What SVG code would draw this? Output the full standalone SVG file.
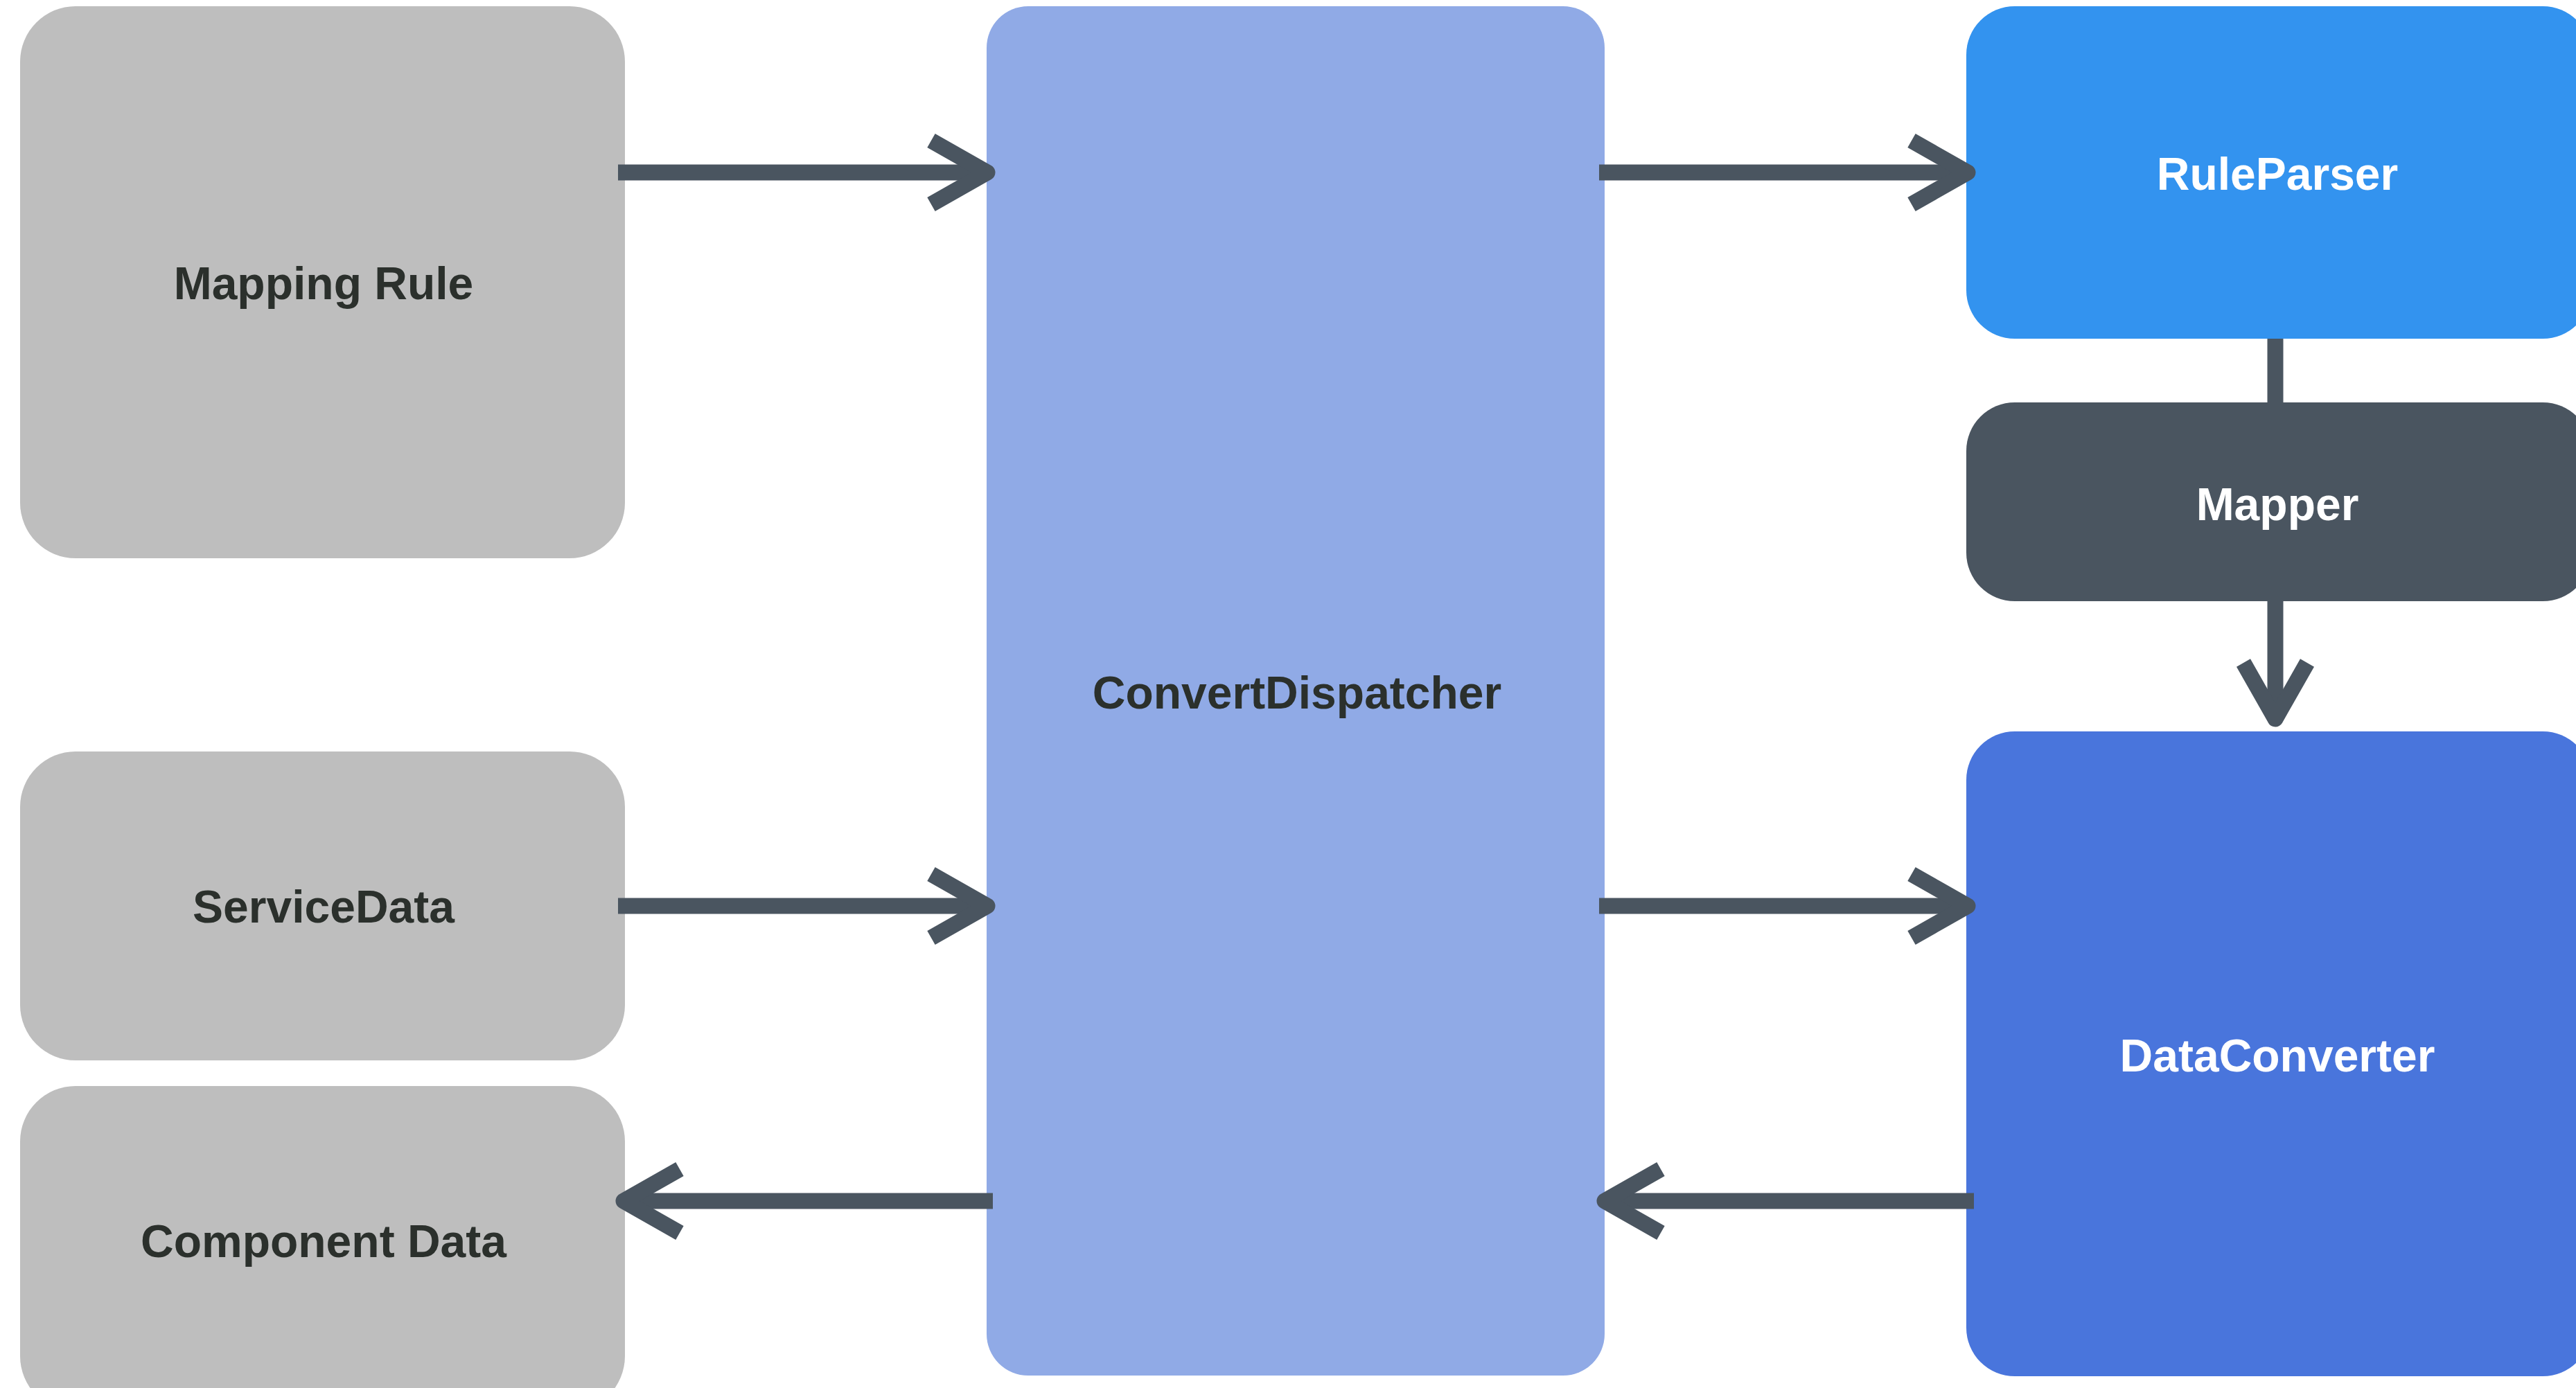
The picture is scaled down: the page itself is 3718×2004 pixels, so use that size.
<svg xmlns="http://www.w3.org/2000/svg" width="3718" height="2004" viewBox="0 0 3718 2004">
<style>
.lbl{font-family:"Liberation Sans",Arial,sans-serif;font-weight:bold;font-size:66px;text-anchor:middle}
.dark{fill:#2b302c}
.light{fill:#ffffff}
.line{stroke:#4a5560;stroke-width:23;fill:none}
.head{stroke:#4a5560;stroke-width:23;fill:none;stroke-linejoin:round;stroke-linecap:butt}
</style>
<rect width="3718" height="2004" fill="#ffffff"/>
<g id="mapping-rule">
<rect x="29" y="9" width="873" height="797" rx="80" ry="80" fill="#bebebe"/>
<text class="lbl dark" x="467" y="432">Mapping Rule</text>
</g>
<g id="service-data">
<rect x="29" y="1085" width="873" height="446" rx="80" ry="80" fill="#bebebe"/>
<text class="lbl dark" x="467" y="1332">ServiceData</text>
</g>
<g id="component-data">
<rect x="29" y="1568" width="873" height="470" rx="80" ry="80" fill="#bebebe"/>
<text class="lbl dark" x="467" y="1815">Component Data</text>
</g>
<g id="convert-dispatcher">
<rect x="1424" y="9" width="892" height="1977" rx="60" ry="60" fill="#90aae6"/>
<text class="lbl dark" x="1872" y="1023">ConvertDispatcher</text>
</g>
<g id="rule-parser">
<rect x="2838" y="9" width="902" height="480" rx="70" ry="70" fill="#3393ef"/>
<text class="lbl light" x="3287" y="274">RuleParser</text>
</g>
<g id="mapper">
<rect x="2838" y="581" width="902" height="287" rx="70" ry="70" fill="#4a5560"/>
<text class="lbl light" x="3287" y="751">Mapper</text>
</g>
<g id="data-converter">
<rect x="2838" y="1056" width="902" height="931" rx="70" ry="70" fill="#4975dc"/>
<text class="lbl light" x="3287" y="1547">DataConverter</text>
</g>
<g id="connectors">
<line class="line" x1="892" y1="249" x2="1425" y2="249"/>
<polyline class="head" points="1344,203 1425,249 1344,295"/>
<line class="line" x1="892" y1="1308" x2="1425" y2="1308"/>
<polyline class="head" points="1344,1262 1425,1308 1344,1354"/>
<line class="line" x1="1433" y1="1734" x2="900" y2="1734"/>
<polyline class="head" points="981,1688 900,1734 981,1780"/>
<line class="line" x1="2308" y1="249" x2="2840" y2="249"/>
<polyline class="head" points="2759,203 2840,249 2759,295"/>
<line class="line" x1="2308" y1="1308" x2="2840" y2="1308"/>
<polyline class="head" points="2759,1262 2840,1308 2759,1354"/>
<line class="line" x1="2849" y1="1734" x2="2316" y2="1734"/>
<polyline class="head" points="2397,1688 2316,1734 2397,1780"/>
<line class="line" x1="3284" y1="489" x2="3284" y2="581"/>
<line class="line" x1="3284" y1="868" x2="3284" y2="1038"/>
<polyline class="head" points="3238,957 3284,1038 3330,957"/>
</g>
</svg>
